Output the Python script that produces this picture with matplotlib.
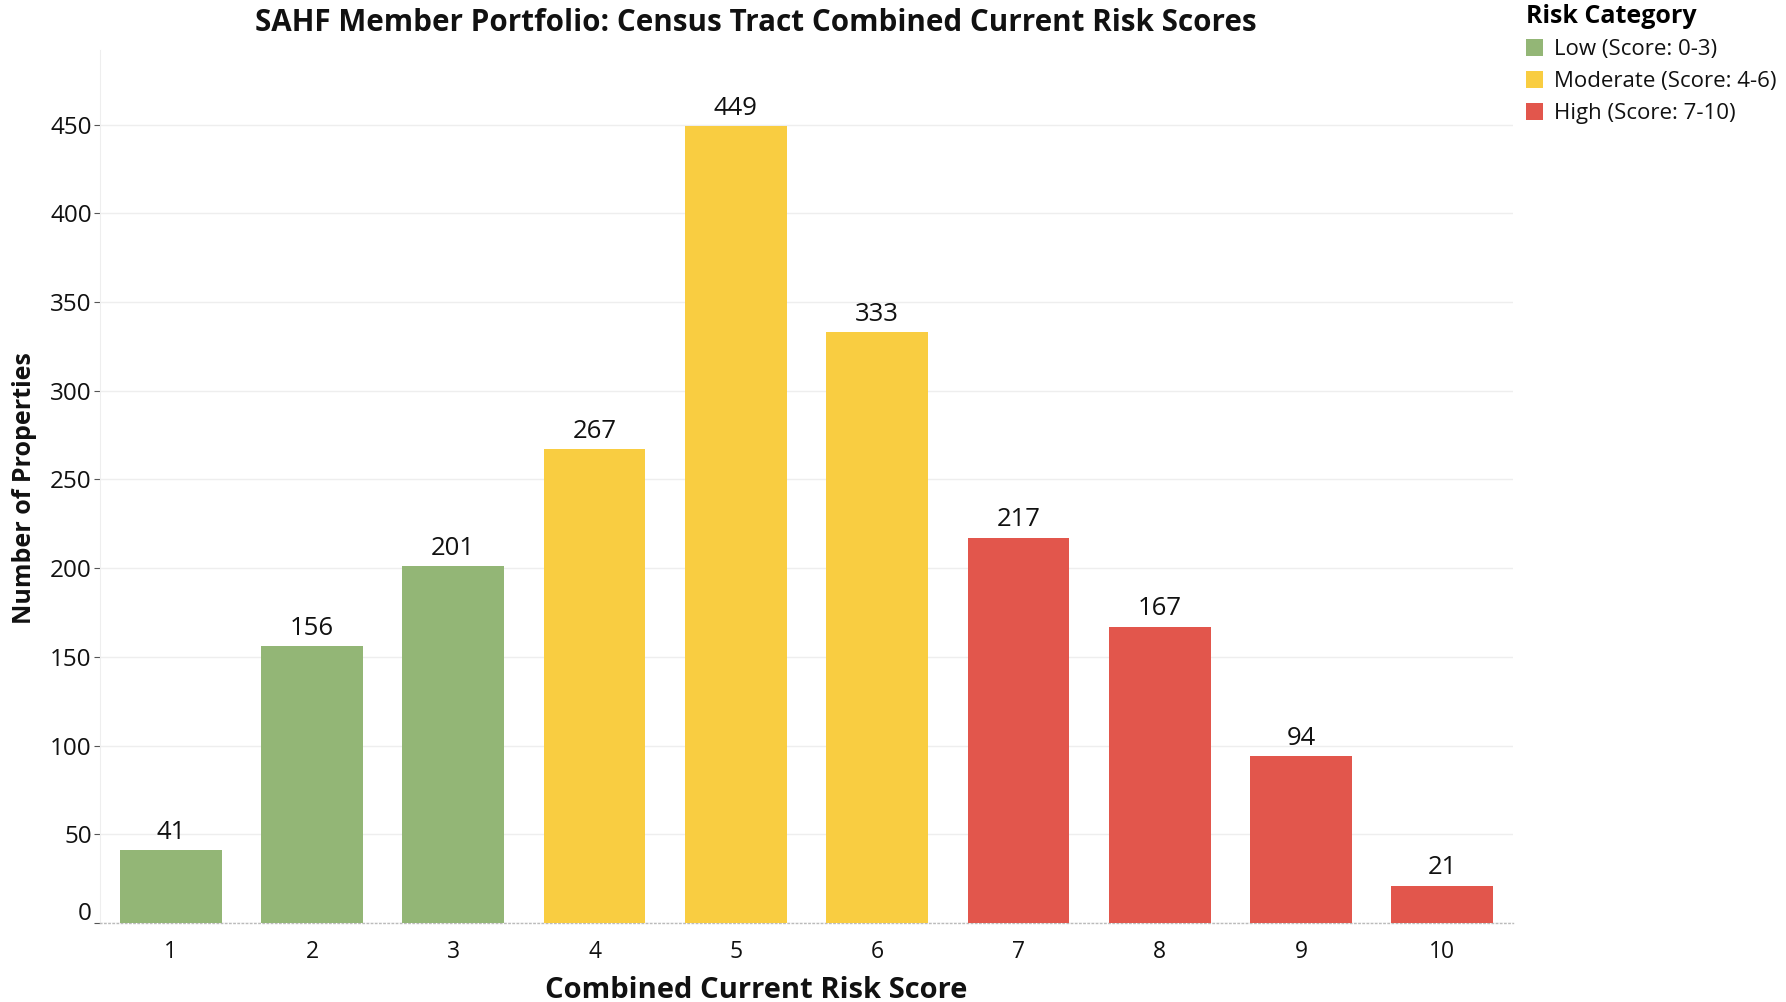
import matplotlib
matplotlib.use("Agg")
import matplotlib.pyplot as plt
import matplotlib.transforms as mtransforms
from matplotlib.patches import Patch

plt.rcParams['font.family'] = ['Open Sans', 'DejaVu Sans']

scores = [1, 2, 3, 4, 5, 6, 7, 8, 9, 10]
counts = [41, 156, 201, 267, 449, 333, 217, 167, 94, 21]
categories = ['Low', 'Low', 'Low', 'Moderate', 'Moderate', 'Moderate', 'High', 'High', 'High', 'High']
legend_labels = ['Low (Score: 0-3)', 'Moderate (Score: 4-6)', 'High (Score: 7-10)']
yticks = [0, 50, 100, 150, 200, 250, 300, 350, 400, 450]

palette = {'Low': '#93B676', 'Moderate': '#F9CD41', 'High': '#E2564C'}

W, H = 1786, 1002
fig = plt.figure(figsize=(W / 100, H / 100), dpi=100)
ax = fig.add_axes([100 / W, 1 - 923 / H, (1513 - 100) / W, (923 - 50) / H])

colors = [palette[c] for c in categories]
bars = ax.bar(scores, counts, width=0.72, color=colors, zorder=3)
for x, v in zip(scores, counts):
    ax.annotate(str(v), (x, v), xytext=(0, 4), textcoords='offset points',
                ha='center', va='bottom', fontsize=18.5, color='#111111')

ax.set_xlim(0.5, 10.5)
ax.set_ylim(0, 492)
ax.set_xticks(scores)
ax.set_xticklabels([str(s) for s in scores], fontsize=16.5, color='#111111')
ax.set_yticks(yticks)
ax.set_yticklabels([str(t) for t in yticks], fontsize=17.5, color='#111111')
ax.tick_params(axis='y', length=4, width=0.8, color='#555555', pad=2)
ax.tick_params(axis='x', length=0, pad=12)

# the "0" label sits slightly above its tick in the reference
zero_lbl = ax.get_yticklabels()[0]
zero_lbl.set_transform(zero_lbl.get_transform() +
                       mtransforms.ScaledTranslation(0, 12 / 100, fig.dpi_scale_trans))

ax.grid(axis='y', color='#EEEEEE', linewidth=1, zorder=0)
for s in ['top', 'right']:
    ax.spines[s].set_visible(False)
ax.spines['left'].set_color('#EEEEEE')
ax.spines['bottom'].set_color('#BBBBBB')
ax.spines['bottom'].set_linestyle((0, (1, 2)))
ax.spines['bottom'].set_linewidth(1)

ax.set_xlabel('Combined Current Risk Score', fontsize=21, fontweight='bold', color='#111111')
ax.xaxis.set_label_coords((756 - 100) / (1513 - 100), (923 - 990) / (923 - 50))
ax.xaxis.label.set_va('center')
ax.set_ylabel('Number of Properties', fontsize=18, fontweight='bold', color='#111111')
ax.yaxis.set_label_coords((25 - 100) / (1513 - 100), (923 - 488) / (923 - 50))
ax.yaxis.label.set_va('center')
fig.text(756 / W, 1 - 23 / H, 'SAHF Member Portfolio: Census Tract Combined Current Risk Scores',
         ha='center', va='center', fontsize=21.3, fontweight='bold', color='#111111')

handles = [Patch(facecolor=palette[k]) for k in ['Low', 'Moderate', 'High']]
leg = fig.legend(handles, legend_labels, title='Risk Category', loc='upper left',
                 bbox_to_anchor=(1510 / W, 1.012), frameon=False, fontsize=16,
                 title_fontproperties={'weight': 'bold', 'size': 18},
                 handlelength=0.8, handleheight=0.8, handletextpad=0.5,
                 labelspacing=0.48, borderpad=0.2)
leg._legend_box.align = 'left'
for t in leg.get_texts():
    t.set_color('#111111')

fig.savefig('out.png', dpi=100)
